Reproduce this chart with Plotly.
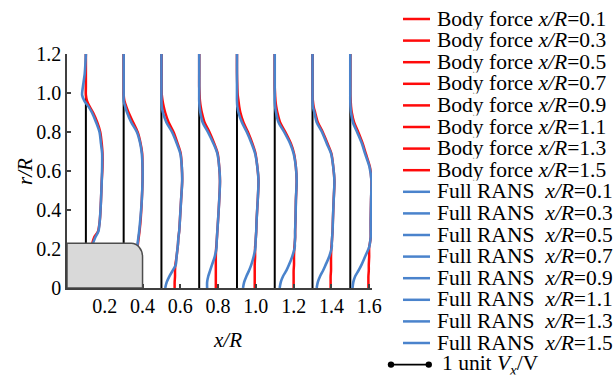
import plotly.graph_objects as go

# ---------------- data ----------------
STATIONS = [0.1, 0.3, 0.5, 0.7, 0.9, 1.1, 1.3, 1.5]          # x/R of each profile
R_GRID = [1.20, 1.10, 1.03, 0.99, 0.96, 0.93, 0.90, 0.85, 0.80, 0.74, 0.69, 0.62,
          0.55, 0.45, 0.35, 0.29, 0.26, 0.23, 0.21, 0.16, 0.12, 0.09, 0.06, 0.03, 0.00]
N = None
# axial velocity increment (Vx/V - 1) along r/R
FR_01 = [0, -0.03, -0.08, -0.10, -0.04, 0.07, 0.16, 0.27, 0.36, 0.40, 0.43, 0.43, 0.42, 0.40, 0.37, 0.33, 0.25, 0.19, N, N, N, N, N, N, N]
BF_01 = [0, 0, 0, 0, 0.03, 0.10, 0.19, 0.30, 0.38, 0.42, 0.44, 0.44, 0.42, 0.40, 0.37, 0.32, 0.22, 0.17, N, N, N, N, N, N, N]
FR_03 = [0, 0, 0, 0, 0, 0.04, 0.09, 0.20, 0.35, 0.44, 0.48, 0.50, 0.50, 0.48, 0.44, 0.41, 0.39, 0.37, 0.36, N, N, N, N, N, N]
BF_03 = [0, 0, 0, 0, 0.02, 0.07, 0.13, 0.25, 0.37, 0.45, 0.49, 0.50, 0.50, 0.48, 0.45, 0.42, 0.40, 0.38, 0.37, N, N, N, N, N, N]
FR_05 = [0, 0, 0, 0, 0, 0.01, 0.04, 0.13, 0.28, 0.41, 0.50, 0.54, 0.55, 0.52, 0.49, 0.47, 0.45, 0.44, 0.43, 0.40, 0.38, 0.30, 0.21, 0.14, 0.10]
BF_05 = [0, 0, 0, 0.01, 0.03, 0.06, 0.10, 0.19, 0.32, 0.43, 0.51, 0.54, 0.55, 0.52, 0.49, 0.47, 0.45, 0.44, 0.43, 0.40, 0.37, 0.36, 0.36, 0.35, 0.35]
FR_07 = [0, 0, 0, 0, 0, 0.01, 0.03, 0.09, 0.23, 0.38, 0.48, 0.53, 0.55, 0.53, 0.50, 0.48, 0.47, 0.46, 0.46, 0.41, 0.34, 0.29, 0.24, 0.21, 0.21]
BF_07 = [0, 0, 0, 0.01, 0.02, 0.04, 0.07, 0.14, 0.27, 0.40, 0.49, 0.53, 0.55, 0.53, 0.50, 0.48, 0.47, 0.46, 0.45, 0.44, 0.44, 0.44, 0.44, 0.44, 0.44]
FR_09 = [0, 0, 0, 0, 0, 0.01, 0.04, 0.13, 0.26, 0.39, 0.48, 0.54, 0.57, 0.55, 0.52, 0.51, 0.50, 0.49, 0.49, 0.44, 0.38, 0.32, 0.25, 0.19, 0.16]
BF_09 = [0, 0, 0.01, 0.02, 0.04, 0.06, 0.09, 0.17, 0.29, 0.41, 0.49, 0.54, 0.57, 0.55, 0.52, 0.51, 0.50, 0.49, 0.48, 0.48, 0.47, 0.47, 0.47, 0.47, 0.47]
FR_11 = [0, 0, 0, 0, 0, 0.01, 0.035, 0.10, 0.25, 0.41, 0.50, 0.56, 0.58, 0.56, 0.55, 0.54, 0.54, 0.53, 0.53, 0.46, 0.38, 0.31, 0.22, 0.16, 0.13]
BF_11 = [0, 0, 0, 0.01, 0.02, 0.04, 0.07, 0.14, 0.28, 0.43, 0.51, 0.56, 0.58, 0.56, 0.55, 0.54, 0.54, 0.53, 0.52, 0.51, 0.51, 0.50, 0.50, 0.50, 0.50]
FR_13 = [0, 0, 0, 0, 0, 0.01, 0.05, 0.11, 0.25, 0.38, 0.49, 0.55, 0.58, 0.56, 0.54, 0.53, 0.52, 0.51, 0.51, 0.44, 0.35, 0.28, 0.20, 0.14, 0.11]
BF_13 = [0, 0, 0, 0, 0.01, 0.03, 0.07, 0.14, 0.27, 0.40, 0.50, 0.55, 0.58, 0.56, 0.54, 0.53, 0.52, 0.51, 0.50, 0.49, 0.49, 0.49, 0.48, 0.48, 0.48]
FR_15 = [0, 0, 0, 0, 0, 0.005, 0.02, 0.07, 0.18, 0.31, 0.39, 0.51, 0.56, 0.55, 0.54, 0.54, 0.54, 0.52, 0.50, 0.39, 0.30, 0.22, 0.13, 0.08, 0.06]
BF_15 = [0, 0, 0, 0, 0.01, 0.02, 0.04, 0.10, 0.21, 0.33, 0.41, 0.52, 0.56, 0.55, 0.54, 0.54, 0.54, 0.52, 0.50, 0.50, 0.49, 0.49, 0.48, 0.48, 0.48]

BODY_FORCE = [BF_01, BF_03, BF_05, BF_07, BF_09, BF_11, BF_13, BF_15]
FULL_RANS = [FR_01, FR_03, FR_05, FR_07, FR_09, FR_11, FR_13, FR_15]

X_TICKS = [0.2, 0.4, 0.6, 0.8, 1.0, 1.2, 1.4, 1.6]
X_TICKTEXT = ["0.2", "0.4", "0.6", "0.8", "1.0", "1.2", "1.4", "1.6"]
Y_TICKS = [0, 0.2, 0.4, 0.6, 0.8, 1.0, 1.2]
Y_TICKTEXT = ["0", "0.2", "0.4", "0.6", "0.8", "1.0", "1.2"]

UNIT_SCALE = 0.2      # x/R length of 1 unit Vx/V
HUB_LENGTH = 0.40
HUB_RADIUS = 0.23

# ---------------- style ----------------
RED = "#ff0a0a"
BLUE = "#4a83cc"
FONT = "Liberation Serif"
X_RANGE = [0, 1.615]
Y_RANGE = [0, 1.2]
ML, MR, MT, MB = 67, 243, 54, 91
W, H = 615, 379
PW, PH = W - ML - MR, H - MT - MB
ROW = 21.6


def px_to_paper(px, py):
    return (px - ML) / PW, (H - MB - py) / PH


fig = go.Figure()

# baselines
for xs in STATIONS:
    fig.add_trace(go.Scatter(x=[xs, xs], y=[Y_RANGE[0], Y_RANGE[1]], mode="lines",
                             line=dict(color="black", width=2), showlegend=False,
                             hoverinfo="skip"))


def profile(xs, vals):
    xx, yy = [], []
    for r, v in zip(R_GRID, vals):
        if v is None:
            continue
        xx.append(xs + UNIT_SCALE * v)
        yy.append(r)
    return xx, yy


for xs, vals in zip(STATIONS, BODY_FORCE):
    xx, yy = profile(xs, vals)
    fig.add_trace(go.Scatter(x=xx, y=yy, mode="lines", name=f"Body force x/R={xs}",
                             line=dict(color=RED, width=2.5, shape="spline", smoothing=0.8),
                             showlegend=False))
for xs, vals in zip(STATIONS, FULL_RANS):
    xx, yy = profile(xs, vals)
    fig.add_trace(go.Scatter(x=xx, y=yy, mode="lines", name=f"Full RANS x/R={xs}",
                             line=dict(color=BLUE, width=2.6, shape="spline", smoothing=0.8),
                             showlegend=False))

# hub
rx, ry, k = 0.06, 0.07, 0.5523
L, Hh = HUB_LENGTH, HUB_RADIUS
path = (f"M 0,0 L 0,{Hh} L {L-rx},{Hh} "
        f"C {L-rx+k*rx},{Hh} {L},{Hh-ry+k*ry} {L},{Hh-ry} L {L},0 Z")
shapes = [dict(type="path", path=path, xref="x", yref="y", layer="above",
               fillcolor="#d9d9d9", line=dict(color="#4d4d4d", width=1.5))]

annotations = []
# manual legend
entries = [(f"Body force <i>x/R</i>={xs}", RED) for xs in STATIONS] + \
          [(f"Full RANS\u00a0 <i>x/R</i>={xs}", BLUE) for xs in STATIONS]
for i, (txt, col) in enumerate(entries):
    py = 19 + ROW * i
    x0, y0 = px_to_paper(403, py)
    x1, _ = px_to_paper(430, py)
    xt, _ = px_to_paper(436, py)
    shapes.append(dict(type="line", xref="paper", yref="paper", x0=x0, x1=x1, y0=y0, y1=y0,
                       line=dict(color=col, width=2.5)))
    annotations.append(dict(text=txt, xref="paper", yref="paper", x=xt, y=y0,
                            xanchor="left", yanchor="middle", showarrow=False,
                            height=ROW - 1, borderpad=0,
                            font=dict(family=FONT, size=21.5, color="black")))

# scale bar: 1 unit Vx/V
py = 19 + ROW * 16
bx0, by = px_to_paper(391, py)
bx1 = bx0 + UNIT_SCALE / (X_RANGE[1] - X_RANGE[0])
shapes.append(dict(type="line", xref="paper", yref="paper", x0=bx0, x1=bx1, y0=by, y1=by,
                   line=dict(color="black", width=1.8)))
for bx in (bx0, bx1):
    shapes.append(dict(type="circle", xref="paper", yref="paper", xsizemode="pixel",
                       ysizemode="pixel", xanchor=bx, yanchor=by, x0=-3.2, x1=3.2,
                       y0=-3.2, y1=3.2, fillcolor="black", line=dict(color="black", width=0)))
xt, _ = px_to_paper(441, py)
annotations.append(dict(text="1 unit <i>V</i><sub><i>x</i></sub>/V", xref="paper", yref="paper",
                        x=xt, y=by, xanchor="left", yanchor="middle", showarrow=False,
                        height=ROW - 1, borderpad=0,
                        font=dict(family=FONT, size=21.5, color="black")))

# axis titles
tx, ty = px_to_paper(227, 340)
annotations.append(dict(text="<i>x/R</i>", xref="paper", yref="paper", x=tx, y=ty,
                        xanchor="center", yanchor="middle", showarrow=False,
                        font=dict(family=FONT, size=21, color="black")))
tx, ty = px_to_paper(25, 172)
annotations.append(dict(text="<i>r/R</i>", xref="paper", yref="paper", x=tx, y=ty,
                        xanchor="center", yanchor="middle", showarrow=False, textangle=-90,
                        font=dict(family=FONT, size=21, color="black")))

fig.update_layout(
    width=W, height=H, autosize=False,
    margin=dict(l=ML, r=MR, t=MT, b=MB),
    paper_bgcolor="white", plot_bgcolor="white",
    font=dict(family=FONT, size=20, color="black"),
    shapes=shapes, annotations=annotations, showlegend=False,
    xaxis=dict(range=X_RANGE, tickvals=X_TICKS, ticktext=X_TICKTEXT, showgrid=False,
               zeroline=False, showline=True, linecolor="#404040", linewidth=1.8,
               ticks="inside", ticklen=4, tickcolor="#404040", tickwidth=1.5,
               ticklabelstandoff=-1,
               tickfont=dict(family=FONT, size=20, color="black")),
    yaxis=dict(range=Y_RANGE, tickvals=Y_TICKS, ticktext=Y_TICKTEXT, showgrid=False,
               zeroline=False, showline=True, linecolor="#404040", linewidth=1.5,
               ticks="inside", ticklen=4, tickcolor="#404040", tickwidth=1.5,
               tickfont=dict(family=FONT, size=20, color="black")),
)

fig.write_html("out.html")
